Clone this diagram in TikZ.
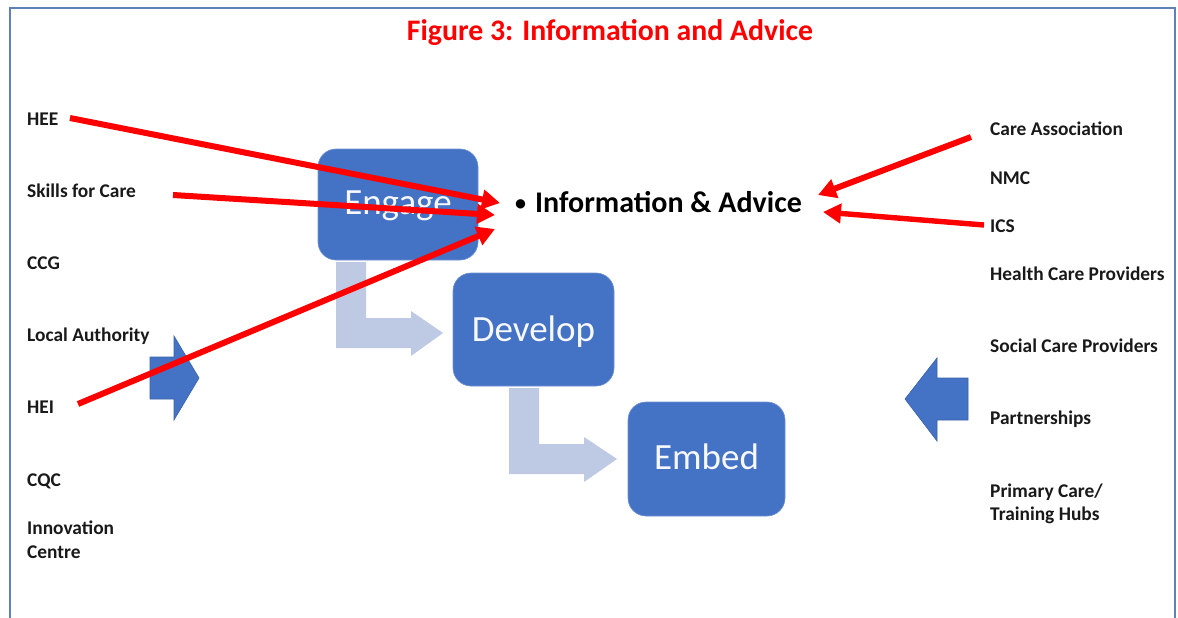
\documentclass[tikz,border=0pt]{standalone}
\usepackage{fontspec}
\setmainfont{Carlito}
\usetikzlibrary{arrows.meta}
\definecolor{boxblue}{HTML}{4472C4}
\definecolor{boxedge}{HTML}{6F92D0}
\definecolor{darkedge}{HTML}{3A62AA}
\definecolor{paleblue}{HTML}{BEC9E3}
\definecolor{framecol}{HTML}{5F80B8}
\definecolor{pure}{HTML}{FF0000}
\tikzset{
  lab/.style={anchor=base west,inner sep=0pt,font=\bfseries\fontsize{19.4}{22}\selectfont,text=black!90},
  stage/.style={rounded corners=18pt,fill=boxblue,draw=boxedge,line width=0.6pt,inner sep=0pt,
    text=white!95!boxblue,font=\fontsize{37}{40}\selectfont,text height=25pt,text depth=5pt},
  redarrow/.style={draw=pure,line width=6pt,-{Triangle[length=18pt,width=19pt]}},
  palearrow/.style={fill=paleblue,draw=none},
  bluearrow/.style={fill=boxblue,draw=darkedge,line width=0.6pt},
}
\begin{document}
\begin{tikzpicture}[x=1pt,y=-1pt]
\useasboundingbox (0,0) rectangle (1178,618);
\fill[white] (0,0) rectangle (1178,618);
\draw[framecol,line width=1.2pt] (10,618) -- (10,8) -- (1175,8) -- (1175,618);

\node[anchor=base,inner sep=0pt,text=pure,font=\bfseries\fontsize{29.8}{32}\selectfont] (title) at (610,41) {Figure 3: Information and Advice};

% pale bent arrows
\fill[palearrow] (336,262) -- (366,262) -- (366,318) -- (411,318) -- (411,311) -- (443,333) -- (411,356) -- (411,348) -- (336,348) -- cycle;
\fill[palearrow] (509,388) -- (539,388) -- (539,444) -- (584,444) -- (584,437) -- (617,459) -- (584,482) -- (584,474) -- (509,474) -- cycle;

% stages
\node[stage,minimum width=160pt,minimum height=111pt] (engage) at (398,204.5) {Engage};
\node[stage,minimum width=161pt,minimum height=113pt,text height=28pt] (develop) at (533.5,329.5) {Develop};
\node[stage,minimum width=157pt,minimum height=114pt] (embed) at (706.5,459) {Embed};

% block arrows
\draw[bluearrow] (150,357) -- (174,357) -- (174,336) -- (199,378) -- (174,420) -- (174,399) -- (150,399) -- cycle;
\draw[bluearrow] (968,378) -- (937,378) -- (937,358) -- (905,399) -- (937,441) -- (937,420) -- (968,420) -- cycle;

% centre text
\node[anchor=base west,inner sep=0pt,font=\bfseries\fontsize{22}{24}\selectfont] (bullet) at (515,210) {•};
\node[anchor=base west,inner sep=0pt,font=\bfseries\fontsize{30}{32}\selectfont] (info) at (535,212) {Information \& Advice};

% left labels
\node[lab] (hee) at (27,125.5) {HEE};
\node[lab] (sfc) at (27,197.5) {Skills for Care};
\node[lab] (ccg) at (27,269.5) {CCG};
\node[lab] (la) at (27,341.5) {Local Authority};
\node[lab] (hei) at (27,413.5) {HEI};
\node[lab] (cqc) at (27,486.5) {CQC};
\node[lab] (inn) at (27,534.5) {Innovation};
\node[lab] (cen) at (27,558.5) {Centre};

% right labels
\node[lab] (care) at (990,135.5) {Care Association};
\node[lab] (nmc) at (990,184.5) {NMC};
\node[lab] (ics) at (990,232.5) {ICS};
\node[lab] (hcp) at (990,280.5) {Health Care Providers};
\node[lab] (scp) at (990,352.5) {Social Care Providers};
\node[lab] (par) at (990,424.5) {Partnerships};
\node[lab] (pri) at (990,497.5) {Primary Care/};
\node[lab] (tra) at (990,520.5) {Training Hubs};

% connector ends
\coordinate (heeOut) at (70,118);
\coordinate (sfcOut) at (173,195);
\coordinate (heiOut) at (78,404);
\coordinate (careOut) at (971,137);
\coordinate (icsOut) at (984,225);
\coordinate (inA) at (500,203);
\coordinate (inB) at (495,215);
\coordinate (inC) at (495,229);
\coordinate (inD) at (818,195);
\coordinate (inE) at (823,212);

\draw[redarrow] (heeOut) -- (inA);
\draw[redarrow] (sfcOut) -- (inB);
\draw[redarrow] (heiOut) -- (inC);
\draw[redarrow] (careOut) -- (inD);
\draw[redarrow,line width=5.4pt] (icsOut) -- (inE);
\end{tikzpicture}
\end{document}
